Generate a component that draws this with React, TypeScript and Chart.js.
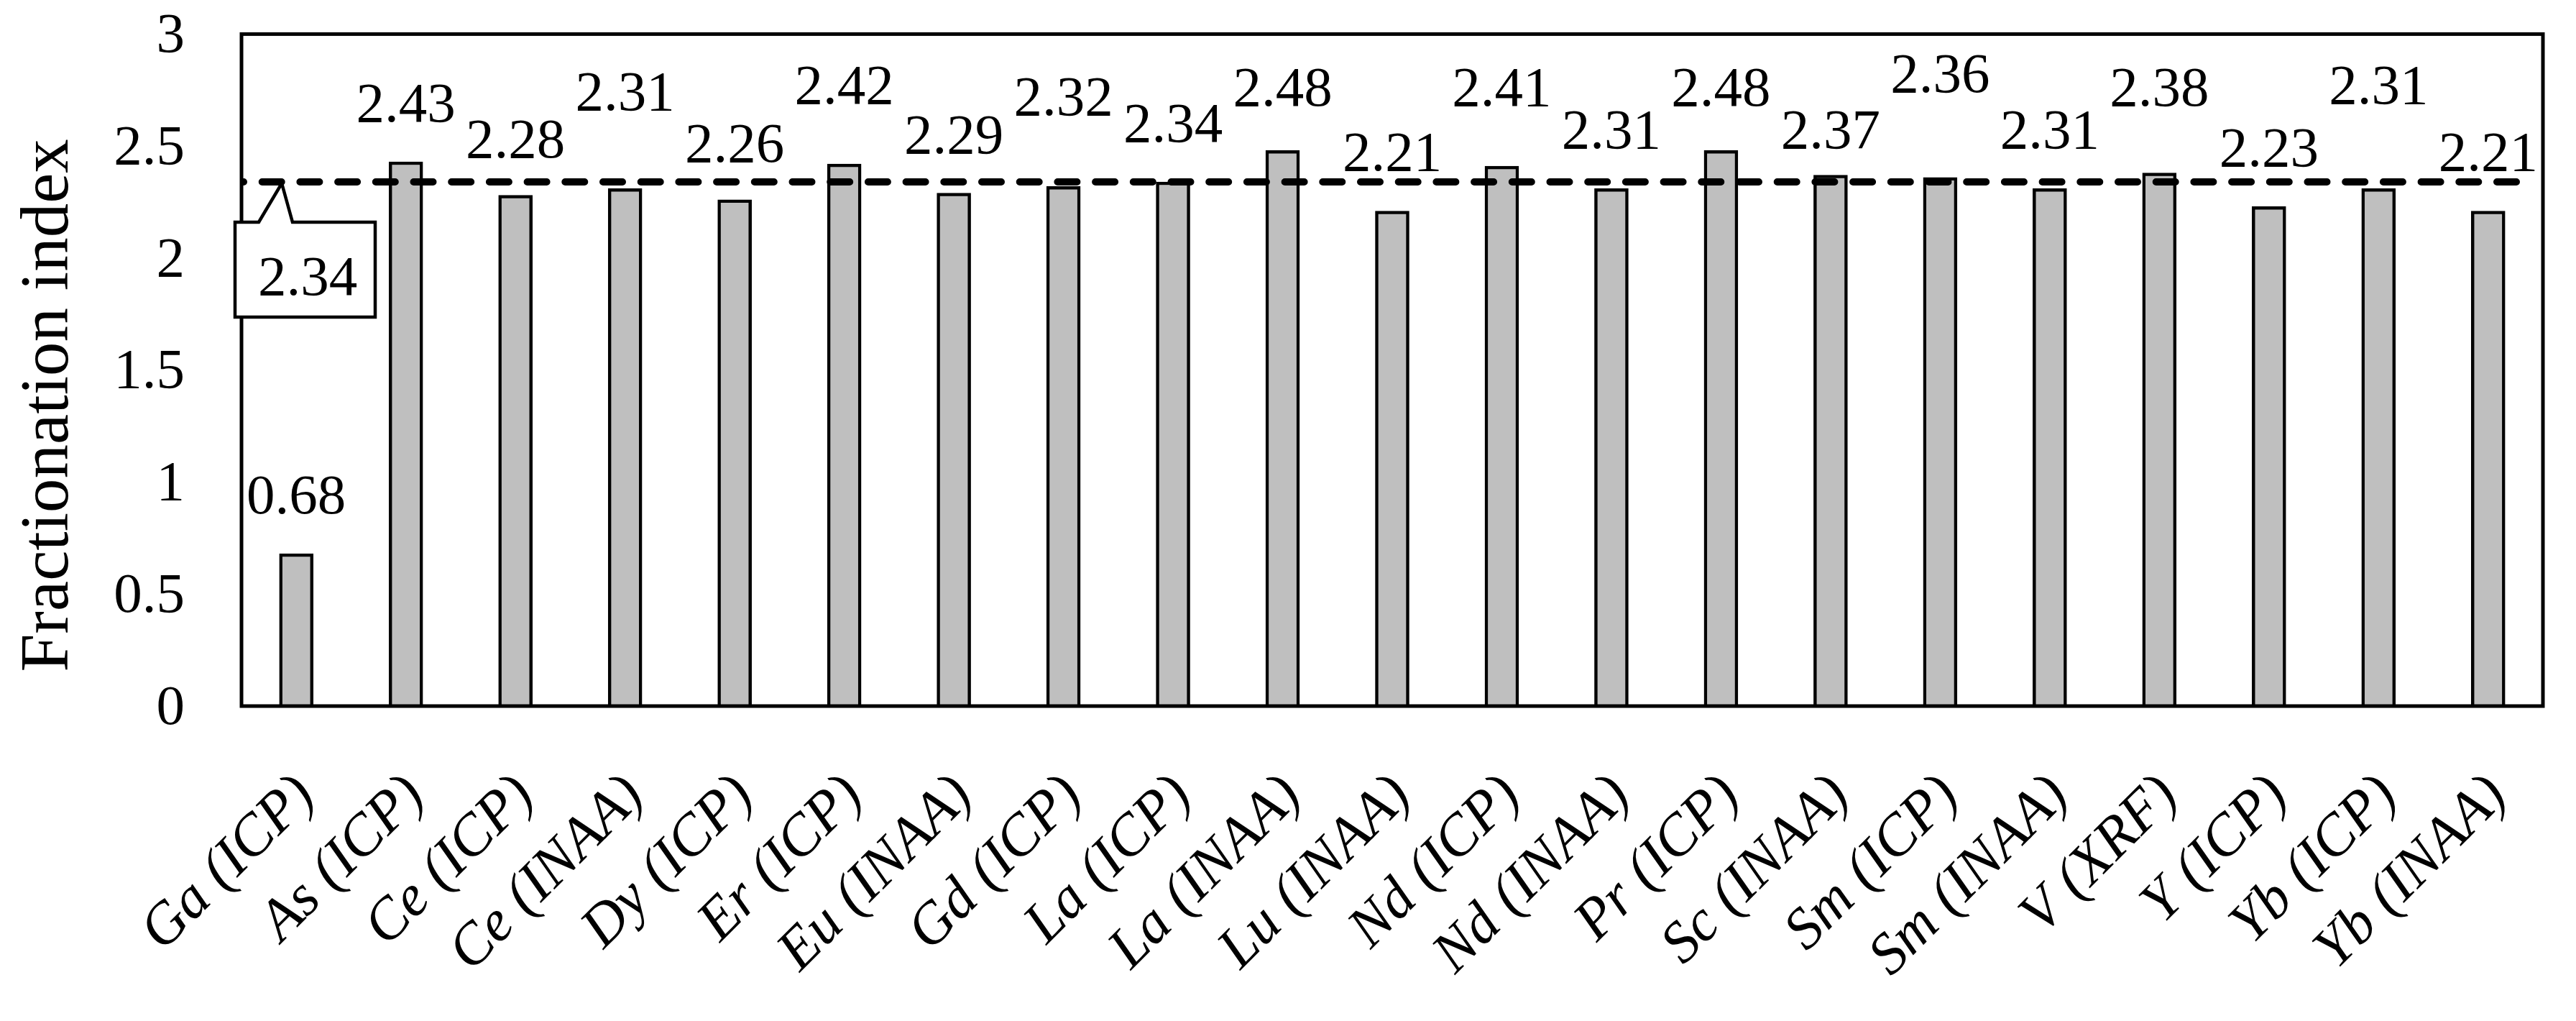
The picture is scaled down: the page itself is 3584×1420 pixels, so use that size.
import React, { useEffect, useRef } from 'react';
import { Chart, registerables } from 'chart.js';

Chart.register(...registerables);

const categories = [
  'Ga (ICP)', 'As (ICP)', 'Ce (ICP)', 'Ce (INAA)', 'Dy (ICP)', 'Er (ICP)', 'Eu (INAA)',
  'Gd (ICP)', 'La (ICP)', 'La (INAA)', 'Lu (INAA)', 'Nd (ICP)', 'Nd (INAA)', 'Pr (ICP)',
  'Sc (INAA)', 'Sm (ICP)', 'Sm (INAA)', 'V (XRF)', 'Y (ICP)', 'Yb (ICP)', 'Yb (INAA)',
];
const fractionationIndex = [
  0.68, 2.43, 2.28, 2.31, 2.26, 2.42, 2.29, 2.32, 2.34, 2.48, 2.21,
  2.41, 2.31, 2.48, 2.37, 2.36, 2.31, 2.38, 2.23, 2.31, 2.21,
];
const meanIndex = 2.34;
const yTickValues = [0, 0.5, 1, 1.5, 2, 2.5, 3];
const yTickLabels = ['0', '0.5', '1', '1.5', '2', '2.5', '3'];
const yTitle = 'Fractionation index';
// axis value at which each value label's baseline sits (labels were placed by hand)
const valueLabelAt = [
  0.86, 2.61, 2.45, 2.66, 2.43, 2.69, 2.47, 2.64, 2.52, 2.68, 2.39,
  2.68, 2.49, 2.68, 2.49, 2.74, 2.49, 2.68, 2.41, 2.69, 2.39,
];

const FONT = '"Liberation Serif", "Times New Roman", serif';

const overlayPlugin = {
  id: 'overlay',
  afterDatasetsDraw(chart: any) {
    const { ctx, chartArea: a, scales } = chart;
    const y = scales.y;
    const meta = chart.getDatasetMeta(0);
    const ym = y.getPixelForValue(meanIndex);
    ctx.save();

    // dashed mean line
    ctx.save();
    ctx.beginPath();
    ctx.rect(a.left, a.top, a.right - a.left, a.bottom - a.top);
    ctx.clip();
    ctx.strokeStyle = '#000';
    ctx.lineWidth = 10;
    ctx.lineCap = 'round';
    ctx.setLineDash([27, 25.7]);
    ctx.lineDashOffset = 24;
    ctx.beginPath();
    ctx.moveTo(a.left, ym);
    ctx.lineTo(a.right - 18, ym);
    ctx.stroke();
    ctx.restore();

    // plot frame
    ctx.setLineDash([]);
    ctx.strokeStyle = '#000';
    ctx.lineWidth = 5;
    ctx.lineCap = 'butt';
    ctx.strokeRect(a.left, a.top, a.right - a.left, a.bottom - a.top);

    // value labels
    ctx.fillStyle = '#000';
    ctx.font = `79px ${FONT}`;
    ctx.textAlign = 'center';
    ctx.textBaseline = 'alphabetic';
    meta.data.forEach((bar: any, i: number) => {
      ctx.fillText(fractionationIndex[i].toFixed(2), bar.x, y.getPixelForValue(valueLabelAt[i]));
    });

    // callout for the mean line
    const l = a.left - 9;
    const r = l + 195;
    const t = ym + 56;
    const b = ym + 188;
    ctx.beginPath();
    ctx.moveTo(l, t);
    ctx.lineTo(l + 33, t);
    ctx.lineTo(l + 65, ym + 2);
    ctx.lineTo(l + 80, t);
    ctx.lineTo(r, t);
    ctx.lineTo(r, b);
    ctx.lineTo(l, b);
    ctx.closePath();
    ctx.fillStyle = '#fff';
    ctx.fill();
    ctx.lineWidth = 4.5;
    ctx.lineJoin = 'miter';
    ctx.strokeStyle = '#000';
    ctx.stroke();
    ctx.fillStyle = '#000';
    ctx.textAlign = 'center';
    ctx.fillText(meanIndex.toFixed(2), l + 101, ym + 157);

    ctx.restore();
  },
};

export default function App() {
  const canvasRef = useRef<HTMLCanvasElement | null>(null);

  useEffect(() => {
    document.body.style.margin = '0';
    const canvas = canvasRef.current;
    if (!canvas) return;
    const chart = new Chart(canvas, {
      type: 'bar',
      data: {
        labels: categories,
        datasets: [
          {
            label: yTitle,
            data: fractionationIndex,
            backgroundColor: '#bfbfbf',
            borderColor: '#000000',
            borderWidth: 4.5,
            barThickness: 47,
          },
        ],
      },
      options: {
        responsive: false,
        animation: false,
        devicePixelRatio: 1,
        layout: { padding: { top: 47, right: 46, left: 0, bottom: 0 } },
        plugins: {
          legend: { display: false },
          tooltip: { enabled: false },
        },
        scales: {
          x: {
            grid: {
              display: true,
              drawOnChartArea: false,
              drawTicks: true,
              tickLength: 78,
              color: 'rgba(0,0,0,0)',
            },
            border: { display: false },
            ticks: {
              autoSkip: false,
              maxRotation: 45,
              minRotation: 45,
              color: '#000',
              padding: 0,
              labelOffset: 14,
              font: { family: FONT, size: 81, style: 'italic' },
            },
            afterFit: (s: any) => {
              s.height = 438;
            },
          },
          y: {
            min: 0,
            max: 3,
            afterBuildTicks: (s: any) => {
              s.ticks = yTickValues.map((v) => ({ value: v }));
            },
            grid: {
              display: true,
              drawOnChartArea: false,
              drawTicks: true,
              tickLength: 79,
              color: 'rgba(0,0,0,0)',
            },
            border: { display: false },
            ticks: {
              color: '#000',
              padding: 0,
              labelOffset: 4,
              font: { family: FONT, size: 79 },
              callback: (_v: any, i: number) => yTickLabels[i],
            },
            title: {
              display: true,
              align: 'start',
              text: '\u00A0\u00A0' + yTitle,
              color: '#000',
              font: { family: FONT, size: 95 },
              padding: { top: 12, bottom: 0 },
            },
            afterFit: (s: any) => {
              s.width = 336;
            },
          },
        },
      },
      plugins: [overlayPlugin],
    });
    return () => chart.destroy();
  }, []);

  return (
    <div style={{ width: 3584, height: 1420, background: '#fff' }}>
      <canvas ref={canvasRef} width={3584} height={1420} style={{ display: 'block' }} />
    </div>
  );
}
